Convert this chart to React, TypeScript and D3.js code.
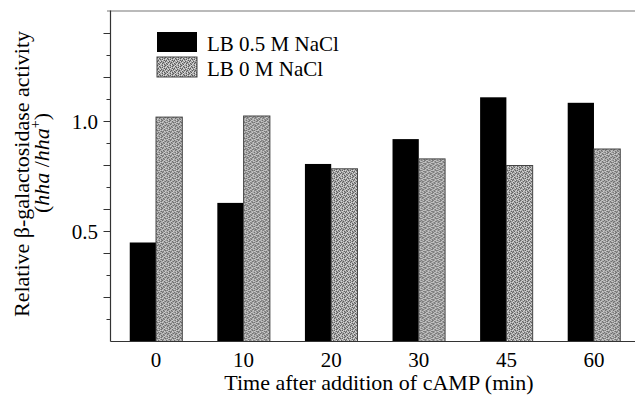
import * as d3 from 'd3';

const times = ['0', '10', '20', '30', '45', '60'];
const series = ['LB 0.5 M NaCl', 'LB 0 M NaCl'];
const salt05 = [0.45, 0.63, 0.807, 0.92, 1.11, 1.085];
const salt0 = [1.02, 1.025, 0.785, 0.83, 0.8, 0.875];
const yTicks = d3.range(1, 15).map(i => i / 10);
const yLabels = [0.5, 1.0];

const W = 635;
const H = 404;
const left = 110.5;
const bottom = 341.5;
const top = 11.5;
const font = '"Liberation Serif", "Times New Roman", serif';

// stipple texture for the grey bars (decorative only)
const stipple = [
  '#.o..#o.',
  '.o#.o..#',
  'o..#.#o.',
  '.#o..o.#',
  '#..o#..o',
  '.o.#..#.',
  'o#..o#..',
  '..#o..o#',
];

const App = () => {
  const x = d3.scaleBand().domain(times).range([111, 639]).paddingInner(0.4).paddingOuter(0.214);
  const xs = d3.scaleBand().domain(series).range([0, x.bandwidth()]);
  const y = d3.scaleLinear().domain([0, 1.5]).range([bottom, top]);
  const values = [salt05, salt0];

  const cells: { a: number; b: number; c: string }[] = [];
  stipple.forEach((row, b) =>
    row.split('').forEach((ch, a) => {
      if (ch === '#') cells.push({ a, b, c: '#5a5a5a' });
      if (ch === 'o') cells.push({ a, b, c: '#dcdcdc' });
    })
  );

  return (
    <svg width={W} height={H} style={{ position: 'absolute', left: 0, top: 0, background: '#fff' }}>
      <defs>
        <pattern id="stip" width={8} height={8} patternUnits="userSpaceOnUse">
          <rect width={8} height={8} fill="#a4a4a4" />
          {cells.map((d, i) => (
            <rect key={i} x={d.a} y={d.b} width={1} height={1} fill={d.c} />
          ))}
        </pattern>
      </defs>

      {/* bars */}
      {times.map((t, i) => (
        <g key={t} transform={`translate(${x(t)},0)`}>
          {series.map((s, k) => (
            <rect
              key={s}
              x={xs(s)}
              y={y(values[k][i])}
              width={xs.bandwidth()}
              height={bottom - y(values[k][i])}
              fill={k === 0 ? '#000' : 'url(#stip)'}
              stroke={k === 0 ? 'none' : '#444'}
              strokeWidth={1}
            />
          ))}
        </g>
      ))}

      {/* frame */}
      <line x1={107} x2={635} y1={top - 0.5} y2={top - 0.5} stroke="#777" strokeWidth={1.2} />
      <line x1={left} x2={left} y1={top - 1} y2={bottom} stroke="#333" strokeWidth={1.2} />
      <line x1={left} x2={635} y1={bottom} y2={bottom} stroke="#333" strokeWidth={1.2} />

      {/* y ticks */}
      {yTicks.map(v => {
        const major = Math.round(v * 10) % 2 === 0 || yLabels.includes(v);
        return (
          <line key={v} x1={left - (major ? 7 : 4)} x2={left} y1={y(v)} y2={y(v)} stroke="#333" strokeWidth={1} />
        );
      })}
      {yLabels.map(v => (
        <text key={v} x={98} y={y(v) + 7} textAnchor="end" fontFamily={font} fontSize={21} fill="#000">
          {v.toFixed(1)}
        </text>
      ))}

      {/* x tick labels */}
      {times.map(t => (
        <text key={t} x={(x(t) as number) + x.bandwidth() / 2} y={367} textAnchor="middle" fontFamily={font} fontSize={21} fill="#000">
          {t}
        </text>
      ))}

      {/* axis titles */}
      <text x={379} y={390} textAnchor="middle" fontFamily={font} fontSize={22} fill="#000">
        Time after addition of cAMP (min)
      </text>
      <text transform="translate(29,174) rotate(-90)" textAnchor="middle" fontFamily={font} fontSize={22} fill="#000">
        Relative β-galactosidase activity
      </text>
      <text transform="translate(49,163) rotate(-90)" textAnchor="middle" fontFamily={font} fontSize={22} fill="#000">
        (<tspan fontStyle="italic">hha</tspan> /<tspan fontStyle="italic">hha</tspan>
        <tspan fontSize={14} dy={-9}>+</tspan>
        <tspan dy={9}>)</tspan>
      </text>

      {/* legend */}
      {series.map((s, k) => (
        <g key={s} transform={`translate(157,${32 + k * 25})`}>
          <rect width={40} height={20} fill={k === 0 ? '#000' : 'url(#stip)'} stroke={k === 0 ? 'none' : '#444'} />
          <text x={50} y={19} fontFamily={font} fontSize={21} fill="#000">{s}</text>
        </g>
      ))}
    </svg>
  );
};

export default App;
